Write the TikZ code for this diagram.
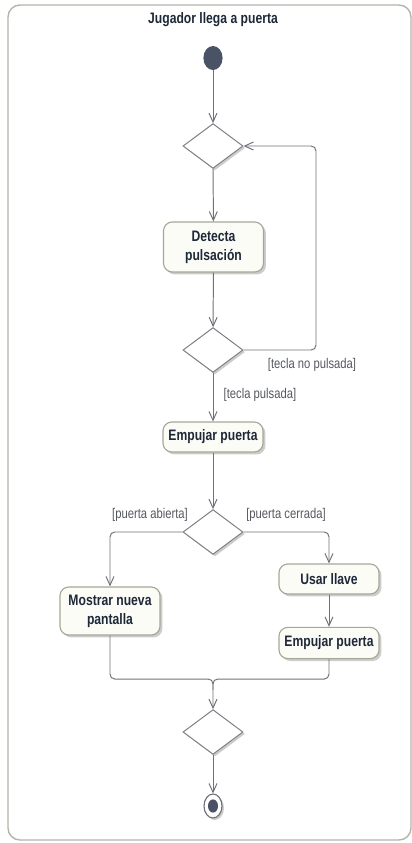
\documentclass[tikz,border=0pt]{standalone}
\usepackage{fontspec}
\newfontfamily\diagfont{Liberation Sans}[FakeStretch=0.8]
\usetikzlibrary{arrows.meta,shapes.geometric,shadows}
\definecolor{framegray}{HTML}{B4B4AA}
\definecolor{linegray}{HTML}{6E7178}
\definecolor{boxedge}{HTML}{A6A698}
\definecolor{boxfill}{HTML}{FCFCF7}
\definecolor{inkblue}{HTML}{1E2838}
\definecolor{dotfill}{HTML}{4A5365}
\definecolor{guardgray}{HTML}{55585E}

\begin{document}
\begin{tikzpicture}[x=0.025cm,y=-0.025cm,
  action/.style={draw=boxedge,line width=0.8pt,fill=boxfill,rounded corners=0.22cm,
    minimum width=2.5cm,align=center,text=inkblue,
    font=\diagfont\bfseries\fontsize{10.8}{13.5}\selectfont,
    drop shadow={shadow xshift=0.06cm,shadow yshift=-0.06cm,fill=black!40}},
  choice/.style={diamond,draw=linegray!90,line width=0.7pt,fill=white,inner sep=0pt,
    minimum width=1.5cm,minimum height=1.12cm,
    drop shadow={shadow xshift=0.05cm,shadow yshift=-0.05cm,fill=black!40}},
  flow/.style={draw=linegray,line width=0.7pt,-{Straight Barb[length=0.22cm,width=0.2cm]}},
  guard/.style={text=guardgray,font=\diagfont\fontsize{10}{11}\selectfont,inner sep=1pt}]
\useasboundingbox (0,0) rectangle (412,843);
\draw[framegray,line width=1pt,rounded corners=0.3cm] (8,5) rectangle (411,840);
\node[text=inkblue,font=\diagfont\bfseries\fontsize{10.8}{12}\selectfont] (title) at (213,20) {Jugador llega a puerta};

% nodes
\node[ellipse,fill=dotfill,minimum width=0.48cm,minimum height=0.6cm,inner sep=0pt] (start) at (213,58) {};
\node[choice] (d1) at (213,146) {};
\node[action,minimum height=1.25cm] (detecta) at (213.5,247) {Detecta\\pulsación};
\node[choice] (d2) at (213,350) {};
\node[action,minimum height=0.75cm] (empujar) at (213,437) {Empujar puerta};
\node[choice] (d3) at (213,532) {};
\node[action,minimum height=1.2cm] (mostrar) at (110,611) {Mostrar nueva\\pantalla};
\node[action,minimum height=0.75cm] (llave) at (329,579) {Usar llave};
\node[action,minimum height=0.78cm] (empujar2) at (329,643) {Empujar puerta};
\node[choice] (d4) at (213,732) {};
\node[ellipse,draw=linegray,line width=0.8pt,fill=white,minimum width=0.45cm,minimum height=0.6cm,inner sep=0pt,
  drop shadow={shadow xshift=0.05cm,shadow yshift=-0.05cm,fill=black!40}] (fin) at (213,806) {};
\node[ellipse,fill=dotfill,minimum width=0.25cm,minimum height=0.33cm,inner sep=0pt] (finDot) at (fin) {};

% guards
\node[guard] (noPulsada) at (312,365) {[tecla no pulsada]};
\node[guard,anchor=west] (pulsada) at (222,395) {[tecla pulsada]};
\node[guard] (abierta) at (150,515) {[puerta abierta]};
\node[guard] (cerrada) at (286,515) {[puerta cerrada]};

% flows
\coordinate (join) at (213,679);
\draw[flow] (start) -- (d1);
\draw[flow] (d1) -- (detecta);
\draw[flow] (detecta) -- (d2);
\draw[flow,rounded corners=0.12cm] (d2.east) -- (316,350) -- (316,146) -- (d1.east);
\draw[flow] (d2) -- (empujar);
\draw[flow] (empujar) -- (d3);
\draw[flow,rounded corners=0.12cm] (d3.west) -| (mostrar.north);
\draw[flow,rounded corners=0.12cm] (d3.east) -| (llave.north);
\draw[flow] (llave) -- (empujar2);
\draw[flow,rounded corners=0.12cm] (mostrar.south) |- (join) -- (d4.north);
\draw[draw=linegray,line width=0.7pt,rounded corners=0.12cm] (empujar2.south) |- (join) -- (213,690);
\draw[flow] (d4) -- (fin);
\end{tikzpicture}
\end{document}
